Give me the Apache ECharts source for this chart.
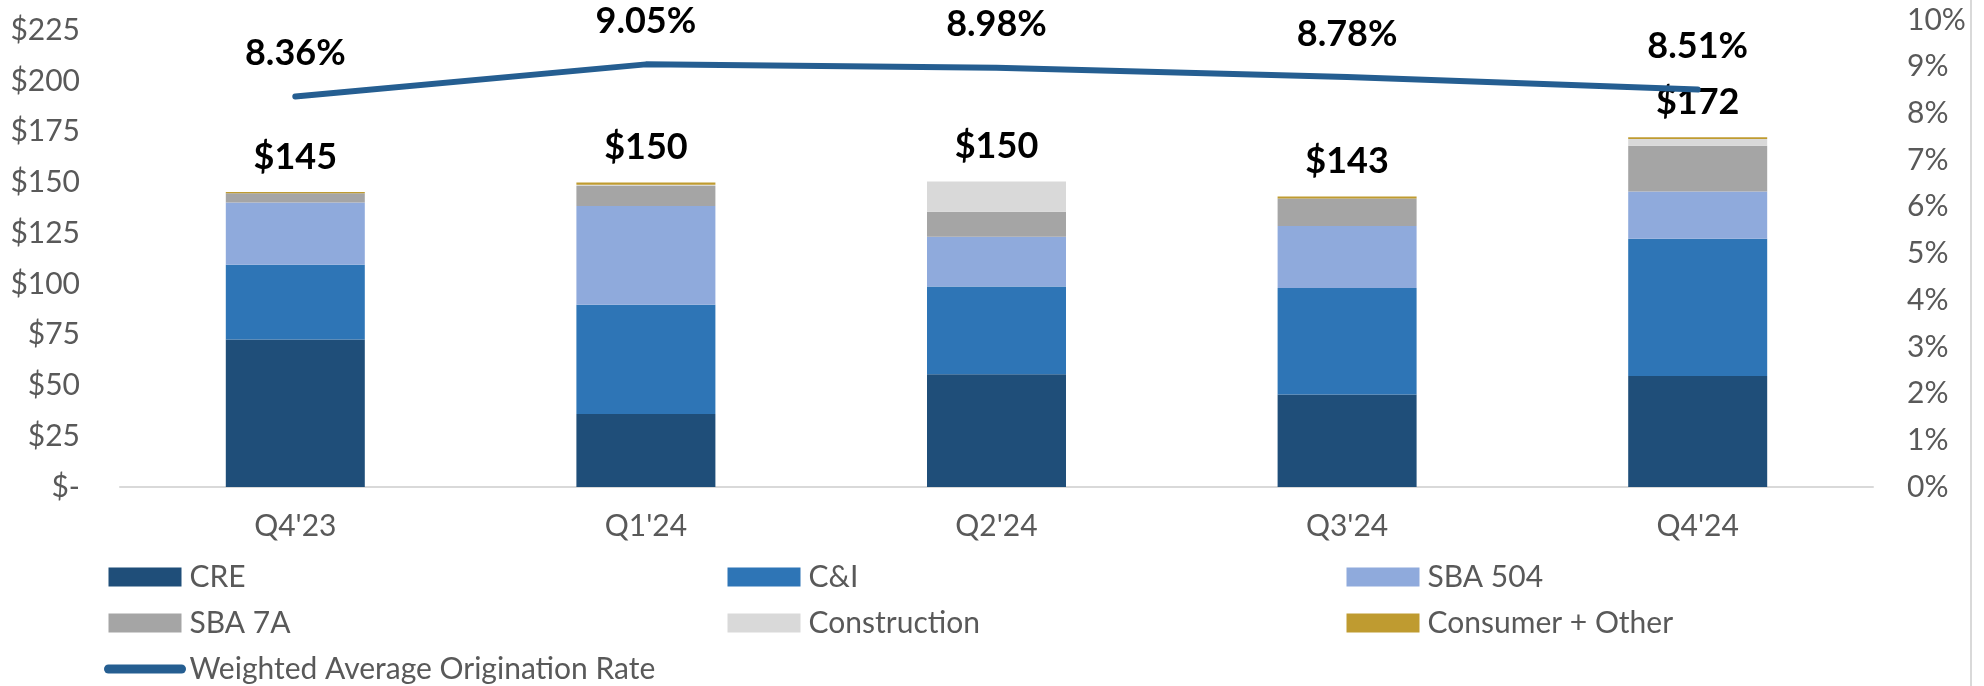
<!DOCTYPE html>
<html>
<head>
<meta charset="utf-8">
<script src="https://cdn.jsdelivr.net/npm/echarts@6/dist/echarts.min.js"></script>
<style>
  html, body { margin: 0; padding: 0; background: #fff; }
  #chart { width: 1984px; height: 686px; }
</style>
</head>
<body>
<div id="chart"></div>
<script>
// Loan originations by quarter ($M) with weighted average rate
const categories = ["Q4'23", "Q1'24", "Q2'24", "Q3'24", "Q4'24"];
const cre = [72.7, 36.0, 55.5, 45.6, 54.7];
const cni = [36.8, 53.7, 43.3, 52.4, 67.6];
const sba504 = [30.6, 48.7, 24.4, 30.5, 23.2];
const sba7a = [4.6, 9.9, 12.4, 13.6, 22.6];
const construction = [0, 0.5, 14.8, 0, 3.3];
const consumer = [0.6, 1.2, 0, 1.0, 0.8];
const totals = [145, 150, 150, 143, 172];
const rates = [8.36, 9.05, 8.98, 8.78, 8.51];

const FONT = 'Lato';
const GREY = '#595959';
const LINE_COLOR = '#255E91';

const chart = echarts.init(document.getElementById('chart'), null, { renderer: 'canvas' });

// one stacked bar series per loan type
function barSeries(name, data, color, extra) {
  return Object.assign({
    name: name,
    type: 'bar',
    stack: 'orig',
    data: data,
    barWidth: 139,
    itemStyle: { color: color },
    emphasis: { disabled: true }
  }, extra || {});
}

const barNames = ['CRE', 'C&I', 'SBA 504', 'SBA 7A', 'Construction', 'Consumer + Other'];

const option = {
  animation: false,
  textStyle: { fontFamily: FONT },
  grid: { left: 120, right: 111, top: 20, bottom: 199 },
  legend: {
    left: 99,
    top: 549,
    width: 1870,
    itemWidth: 73,
    itemHeight: 19,
    itemGap: 0,
    textStyle: {
      fontFamily: FONT,
      fontSize: 30,
      color: GREY,
      width: 538,
      overflow: 'truncate',
      lineHeight: 46,
      padding: [0, 0, 0, 3]
    },
    data: barNames.map(n => ({ name: n, icon: 'rect' })).concat([
      {
        name: 'Weighted Average Origination Rate',
        itemStyle: { opacity: 0 },
        lineStyle: { width: 9, cap: 'round' }
      }
    ])
  },
  xAxis: {
    type: 'category',
    data: categories,
    axisLine: { lineStyle: { color: '#D9D9D9', width: 2 } },
    axisTick: { show: false },
    axisLabel: { fontFamily: FONT, fontSize: 30, color: GREY, margin: 24 }
  },
  yAxis: [
    {
      type: 'value',
      min: 0,
      max: 230,
      interval: 25,
      splitLine: { show: false },
      axisLine: { show: false },
      axisTick: { show: false },
      axisLabel: {
        fontFamily: FONT,
        fontSize: 30,
        color: GREY,
        margin: 40,
        showMaxLabel: false,
        formatter: v => (v === 0 ? '$-' : '$' + v)
      }
    },
    {
      type: 'value',
      min: 0,
      max: 10,
      interval: 1,
      splitLine: { show: false },
      axisLine: { show: false },
      axisTick: { show: false },
      axisLabel: {
        fontFamily: FONT,
        fontSize: 30,
        color: GREY,
        margin: 34,
        formatter: '{value}%'
      }
    }
  ],
  series: [
    barSeries('CRE', cre, '#1F4E79'),
    barSeries('C&I', cni, '#2E75B6'),
    barSeries('SBA 504', sba504, '#8FAADC'),
    barSeries('SBA 7A', sba7a, '#A5A5A5'),
    barSeries('Construction', construction, '#D9D9D9'),
    barSeries('Consumer + Other', consumer, '#BF9B30', {
      label: {
        show: true,
        position: 'top',
        distance: 17,
        fontFamily: FONT,
        fontSize: 36,
        fontWeight: 'bold',
        color: '#000',
        formatter: p => '$' + totals[p.dataIndex]
      }
    }),
    {
      name: 'Weighted Average Origination Rate',
      type: 'line',
      yAxisIndex: 1,
      data: rates,
      showSymbol: true,
      symbol: 'circle',
      symbolSize: 0.1,
      lineStyle: { color: LINE_COLOR, width: 6, cap: 'round' },
      itemStyle: { color: LINE_COLOR },
      emphasis: { disabled: true },
      label: {
        show: true,
        position: 'top',
        distance: 25,
        fontFamily: FONT,
        fontSize: 36,
        fontWeight: 'bold',
        color: '#000',
        formatter: p => p.value.toFixed(2) + '%'
      }
    }
  ],
  graphic: [
    {
      type: 'line',
      shape: { x1: 1971, y1: 0, x2: 1971, y2: 686 },
      style: { stroke: '#D9D9D9', lineWidth: 2 }
    }
  ]
};

chart.setOption(option);
</script>
</body>
</html>
